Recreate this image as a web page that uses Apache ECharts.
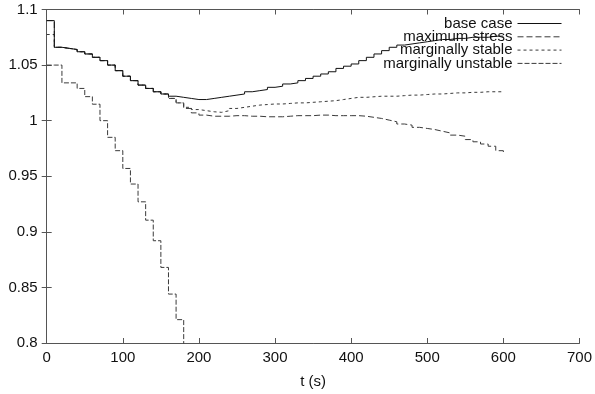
<!DOCTYPE html>
<html><head><meta charset="utf-8">
<script src="https://cdn.jsdelivr.net/npm/echarts@6/dist/echarts.min.js"></script>
<style>html,body{margin:0;padding:0;background:#fff}#c{width:595px;height:394px}</style>
</head><body><div id="c"></div>
<script>
const times = [0,10,20,30,40,50,60,70,80,90,100,110,120,130,140,150,160,170,180,190,200,210,220,230,240,250,260,270,280,290,300,310,320,330,340,350,360,370,380,390,400,410,420,430,440,450,460,470,480,490,500,510,520,530,540,550,560,570,580,590,600];
const baseCase = [1.090,1.066,1.065,1.064,1.062,1.060,1.057,1.054,1.050,1.045,1.040,1.036,1.032,1.029,1.026,1.024,1.022,1.021,1.020,1.019,1.019,1.020,1.021,1.022,1.023,1.024,1.026,1.027,1.028,1.030,1.031,1.033,1.034,1.036,1.038,1.040,1.042,1.044,1.047,1.049,1.051,1.054,1.057,1.060,1.063,1.066,1.068,1.069,1.070,1.071,1.072,1.073,1.073,1.074,1.074,1.075,1.075,1.075,1.076,1.076,1.076];
const maximumStress = [1.090,1.066,1.065,1.064,1.062,1.060,1.057,1.054,1.050,1.045,1.040,1.036,1.032,1.029,1.026,1.024,1.020,1.016,1.011,1.007,1.005,1.004,1.004,1.004,1.0045,1.0045,1.004,1.004,1.0035,1.0035,1.0035,1.004,1.0045,1.0045,1.0045,1.005,1.005,1.0045,1.0045,1.0045,1.0045,1.004,1.003,1.002,1.0005,0.999,0.997,0.996,0.994,0.993,0.992,0.9905,0.989,0.987,0.986,0.983,0.981,0.979,0.977,0.973,0.970];
const marginallyStable = [1.0775,1.066,1.065,1.064,1.062,1.060,1.057,1.054,1.050,1.045,1.040,1.036,1.032,1.029,1.026,1.024,1.020,1.016,1.012,1.010,1.009,1.008,1.0075,1.009,1.011,1.012,1.013,1.014,1.0145,1.015,1.015,1.0155,1.016,1.016,1.0165,1.017,1.0175,1.018,1.019,1.020,1.021,1.021,1.0215,1.022,1.022,1.022,1.0225,1.023,1.023,1.0235,1.024,1.024,1.0245,1.025,1.025,1.0255,1.0255,1.026,1.026,1.026,1.026];
const marginallyUnstable = [1.050,1.050,1.034,1.034,1.029,1.0216,1.0148,1.000,0.985,0.973,0.957,0.943,0.927,0.9105,0.892,0.868,0.844,0.821,0.790];
const seriesNames = ['base case','maximum stress','marginally stable','marginally unstable'];
const xTicks = {min:0, max:700, interval:100};
const yTicks = {min:0.8, max:1.1, interval:0.05};

function zip(vals){ return vals.map((v,i)=>[times[i], v]); }
const valuesList = [baseCase, maximumStress, marginallyStable, marginallyUnstable];
const dashes = ['solid',[6,3],[3,3],[5,2]];
const colors = ['#111','#3a3a3a','#3a3a3a','#3a3a3a'];
const font = 'Liberation Sans, Arial, sans-serif';

const chart = echarts.init(document.getElementById('c'), null, {renderer:'canvas'});
const axisLineStyle = {color:'#555', width:1};
const legends = seriesNames.map((n,i)=>({
  data:[n], right:33, top:16 + i*13.3, align:'right', orient:'vertical',
  itemWidth:44, itemHeight:10, itemGap:0, padding:0,
  itemStyle:{color:'rgba(0,0,0,0)', borderColor:'rgba(0,0,0,0)', borderWidth:0, opacity:0},
  lineStyle:{width:1},
  textStyle:{fontFamily:font, fontSize:15, color:'#111', padding:[0,0,0,0]},
  selectedMode:false
}));
chart.setOption({
  animation:false,
  backgroundColor:'#fff',
  grid:{left:46.7, right:14.5, top:9.5, bottom:44.8, containLabel:false},
  legend: legends,
  xAxis:[{
    type:'value', min:xTicks.min, max:xTicks.max, interval:xTicks.interval,
    name:'t (s)', nameLocation:'middle', nameGap:31,
    nameTextStyle:{fontFamily:font, fontSize:15, color:'#111'},
    axisLine:{show:true, lineStyle:axisLineStyle},
    axisTick:{show:true, inside:true, length:5, lineStyle:axisLineStyle},
    axisLabel:{fontFamily:font, fontSize:15, color:'#111', margin:7},
    splitLine:{show:false}
  },{
    type:'value', position:'top', min:xTicks.min, max:xTicks.max, interval:xTicks.interval,
    axisLine:{show:true, lineStyle:axisLineStyle},
    axisTick:{show:true, inside:true, length:5, lineStyle:axisLineStyle},
    axisLabel:{show:false}, splitLine:{show:false}
  }],
  yAxis:[{
    type:'value', min:yTicks.min, max:yTicks.max, interval:yTicks.interval,
    axisLine:{show:true, lineStyle:axisLineStyle},
    axisTick:{show:true, inside:true, length:5, lineStyle:axisLineStyle},
    axisLabel:{fontFamily:font, fontSize:15, color:'#111', margin:9},
    splitLine:{show:false}
  },{
    type:'value', position:'right', min:yTicks.min, max:yTicks.max, interval:yTicks.interval,
    axisLine:{show:true, lineStyle:axisLineStyle},
    axisTick:{show:true, inside:true, length:5, lineStyle:axisLineStyle},
    axisLabel:{show:false}, splitLine:{show:false}
  }],
  series: seriesNames.map((n,i)=>({
    name:n, type:'line', step:'end', symbol:'none', showSymbol:false,
    data: zip(valuesList[i]), clip:true,
    lineStyle:{color:colors[i], width:1, type:dashes[i]},
    itemStyle:{color:colors[i]},
    z: 10 - i
  }))
});
</script></body></html>
